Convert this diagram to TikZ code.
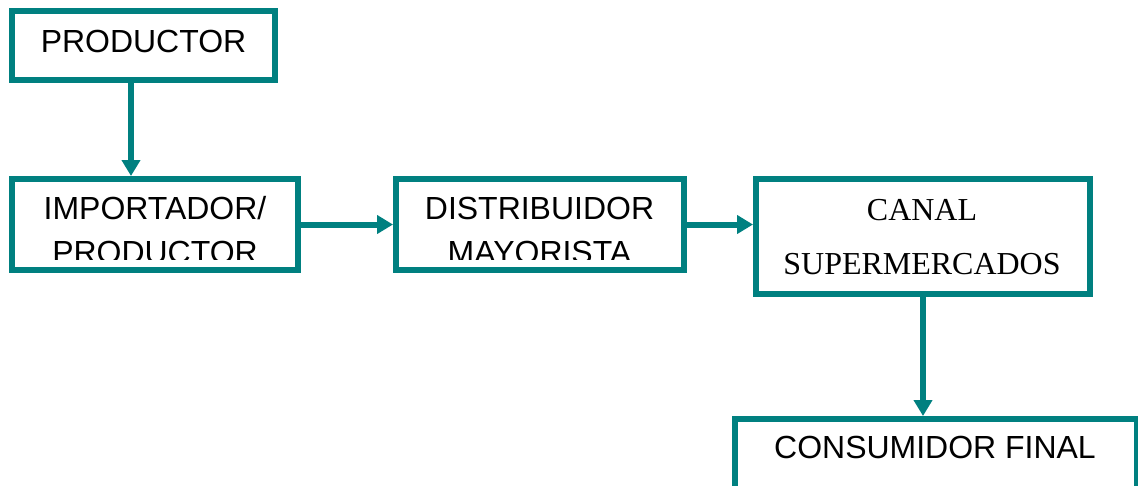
\documentclass[tikz,border=0pt]{standalone}
\usepackage{fontspec}
\setmainfont{Liberation Sans}
\newfontfamily\timesfont{Liberation Serif}
\usetikzlibrary{arrows.meta}
\definecolor{canalteal}{RGB}{0,128,128}
\tikzset{
  caja/.style={draw=canalteal, line width=0.12cm, inner sep=0pt},
  flecha/.style={draw=canalteal, line width=0.12cm, -{Triangle[length=0.32cm,width=0.36cm]}},
  rotulo/.style={inner sep=0pt, align=center, font=\fontsize{18.2}{25.04}\selectfont},
  rotuloserif/.style={inner sep=0pt, align=center, font=\timesfont\fontsize{18.2}{30.7}\selectfont}
}
\begin{document}
\begin{tikzpicture}[x=0.02cm,y=-0.02cm]
\clip (0,0) rectangle (1138,485);
\node[caja, minimum width=5.26cm, minimum height=1.38cm] (prod) at (143.5,45.5) {};
\node[caja, minimum width=5.72cm, minimum height=1.82cm] (imp) at (155,224.5) {};
\node[caja, minimum width=5.76cm, minimum height=1.82cm] (dist) at (540,224.5) {};
\node[caja, minimum width=6.68cm, minimum height=2.30cm] (canal) at (923,236.5) {};
\node[caja, minimum width=8.04cm, minimum height=1.60cm, anchor=north west] (cons) at (732,416) {};
% texts
\node[rotulo] (tprod) at (143.5,41.5) {PRODUCTOR};
\begin{scope}
\clip (14,181) rectangle (690,259.5);
\node[rotulo] (timp) at (155,230.5) {IMPORTADOR/\\PRODUCTOR};
\node[rotulo] (tdist) at (539.5,230.5) {DISTRIBUIDOR\\MAYORISTA};
\end{scope}
\node[rotuloserif] (tcanal) at (922,237) {CANAL\\SUPERMERCADOS};
\node[rotulo] (tcons) at (935,447) {CONSUMIDOR FINAL};
% arrows
\draw[flecha] ([xshift=-0.25cm]prod.south) -- ([xshift=-0.25cm]prod.south |- imp.north);
\draw[flecha] (imp.east) -- (dist.west);
\draw[flecha] (dist.east) -- (dist.east -| canal.west);
\draw[flecha] (canal.south) -- (canal.south |- cons.north);
\end{tikzpicture}
\end{document}
